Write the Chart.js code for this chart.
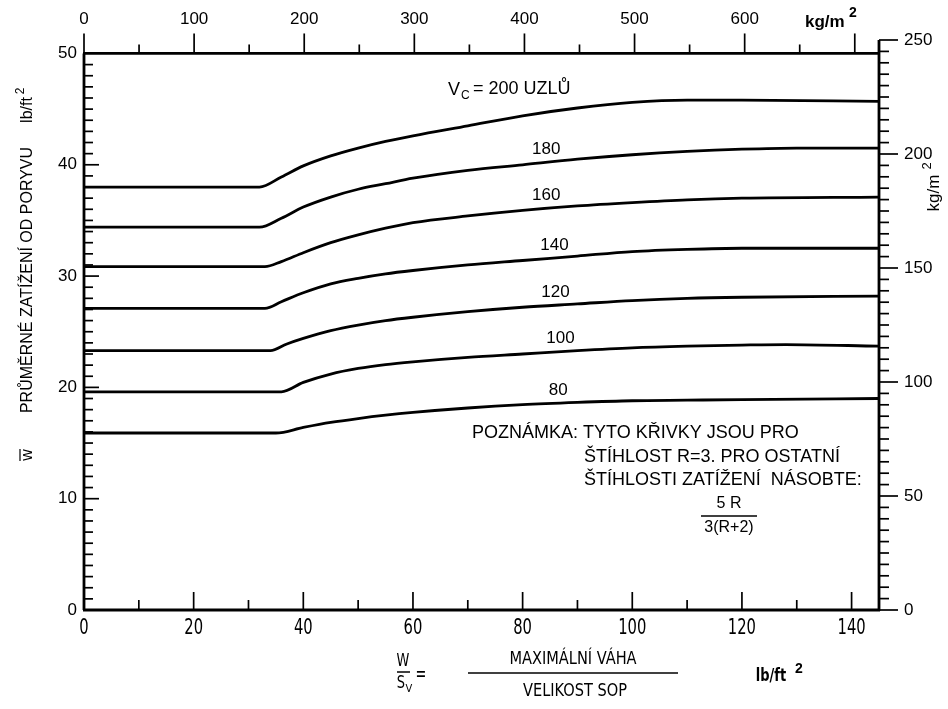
<!DOCTYPE html>
<html lang="cs">
<head>
<meta charset="UTF-8">
<title>Průměrné zatížení od poryvu</title>
<style>
  html, body { margin: 0; padding: 0; background: #fff; }
  #wrap { width: 948px; height: 709px; }
</style>
</head>
<body>
<div id="wrap"><canvas id="gustChart" width="948" height="709"></canvas></div>

<script src="https://cdn.jsdelivr.net/npm/chart.js"></script>
<script>
// curve data: W/S (lb/ft2) -> average gust load (lb/ft2), one pair per speed
var speeds = [200, 180, 160, 140, 120, 100, 80];

var load200X = [0, 32, 36, 40, 45, 50, 55, 60, 70, 80, 90, 100, 110, 120, 145];
var load200Y = [38.0, 38.0, 38.9, 39.9, 40.8, 41.5, 42.1, 42.6, 43.5, 44.4, 45.1, 45.6, 45.8, 45.8, 45.7];

var load180X = [0, 32, 36, 40, 45, 50, 55, 60, 70, 80, 90, 100, 110, 120, 130, 145];
var load180Y = [34.4, 34.4, 35.2, 36.2, 37.1, 37.8, 38.3, 38.8, 39.5, 40.0, 40.5, 40.9, 41.2, 41.4, 41.5, 41.5];

var load160X = [0, 33, 36, 40, 45, 50, 55, 60, 70, 80, 90, 100, 110, 120, 145];
var load160Y = [30.85, 30.85, 31.3, 32.1, 33.0, 33.7, 34.3, 34.8, 35.4, 35.9, 36.3, 36.6, 36.85, 37.0, 37.1];

var load140X = [0, 33, 36, 40, 45, 50, 55, 60, 70, 80, 90, 100, 110, 120, 145];
var load140Y = [27.1, 27.1, 27.7, 28.5, 29.3, 29.8, 30.2, 30.5, 31.0, 31.4, 31.8, 32.2, 32.4, 32.5, 32.5];

var load120X = [0, 34, 37, 40, 45, 50, 55, 60, 70, 80, 90, 100, 110, 120, 145];
var load120Y = [23.3, 23.3, 23.9, 24.4, 25.1, 25.6, 26.0, 26.3, 26.8, 27.2, 27.5, 27.8, 28.0, 28.1, 28.2];

var load100X = [0, 36, 40, 45, 50, 55, 60, 70, 80, 90, 100, 110, 120, 128, 145];
var load100Y = [19.6, 19.6, 20.45, 21.2, 21.7, 22.05, 22.3, 22.7, 23.0, 23.3, 23.55, 23.7, 23.8, 23.85, 23.7];

var load80X = [0, 35, 40, 45, 50, 55, 60, 70, 80, 90, 100, 110, 120, 145];
var load80Y = [15.9, 15.9, 16.4, 16.85, 17.2, 17.5, 17.75, 18.15, 18.45, 18.65, 18.8, 18.85, 18.9, 19.0];

// where along W/S each speed label sits
var labelAtX = [0, 84.3, 84.3, 85.8, 86, 86.9, 86.5];

// axis tick labels
var bottomTicks = [0, 20, 40, 60, 80, 100, 120, 140];
var topTicks = [0, 100, 200, 300, 400, 500, 600];
var leftTicks = [0, 10, 20, 30, 40, 50];
var rightTicks = [0, 50, 100, 150, 200, 250];

var curvesX = [load200X, load180X, load160X, load140X, load120X, load100X, load80X];
var curvesY = [load200Y, load180Y, load160Y, load140Y, load120Y, load100Y, load80Y];

function toPoints(xs, ys) {
    var pts = [];
    for (var i = 0; i < xs.length; i++) {
        pts.push({ x: xs[i], y: ys[i] });
    }
    return pts;
}

// linear lookup, only used to place the speed labels above their curve
function valueAt(xs, ys, x) {
    for (var i = 1; i < xs.length; i++) {
        if (x <= xs[i]) {
            var t = (x - xs[i - 1]) / (xs[i] - xs[i - 1]);
            return ys[i - 1] + t * (ys[i] - ys[i - 1]);
        }
    }
    return ys[ys.length - 1];
}

var datasets = [];
for (var i = 0; i < speeds.length; i++) {
    datasets.push({
        label: 'Vc ' + speeds[i],
        data: toPoints(curvesX[i], curvesY[i]),
        borderColor: '#000',
        borderWidth: 2.8,
        pointRadius: 0,
        fill: false,
        cubicInterpolationMode: 'monotone',
        xAxisID: 'x',
        yAxisID: 'y'
    });
}

var SANS = '"Liberation Sans", Arial, sans-serif';
var NARROW = '"Liberation Sans Narrow", "DejaVu Sans Condensed", "Liberation Sans", sans-serif';

function line(ctx, x1, y1, x2, y2) {
    ctx.beginPath();
    ctx.moveTo(x1, y1);
    ctx.lineTo(x2, y2);
    ctx.stroke();
}

function text(ctx, str, x, y, font, align) {
    ctx.font = font;
    ctx.textAlign = align || 'center';
    ctx.textBaseline = 'middle';
    ctx.fillText(str, x, y);
}

// same as text() but squeezed horizontally, for the narrow scanned lettering
function narrowText(ctx, str, x, y, font, squeeze) {
    ctx.save();
    ctx.translate(x, y);
    ctx.scale(squeeze, 1);
    text(ctx, str, 0, 0, font);
    ctx.restore();
}

// draws the scanned-style axes, ticks and notes from the chart's own scales
var paperAxes = {
    id: 'paperAxes',
    afterDraw: function (chart) {
        var ctx = chart.ctx;
        var xs = chart.scales.x, ys = chart.scales.y;
        var xk = chart.scales.xKg, yk = chart.scales.yKg;
        var left = xs.getPixelForValue(0), right = xs.getPixelForValue(xs.max);
        var bottom = ys.getPixelForValue(0), top = ys.getPixelForValue(50);
        var v, px, py;

        ctx.save();
        ctx.fillStyle = '#000';
        ctx.strokeStyle = '#000';
        ctx.lineCap = 'butt';

        // frame lines
        ctx.lineWidth = 2.8;
        line(ctx, left - 1, bottom, right + 1, bottom);
        line(ctx, left - 1, top, right, top);
        line(ctx, left, bottom, left, top);
        line(ctx, right, bottom + 1, right, yk.getPixelForValue(250));

        ctx.lineWidth = 1.7;
        // bottom: ticks point up
        for (v = 10; v <= 140; v += 10) {
            px = xs.getPixelForValue(v);
            line(ctx, px, bottom, px, bottom - (v % 20 === 0 ? 18 : 10));
        }
        // top (kg/m2): ticks point up, outside
        for (v = 0; v <= 700; v += 50) {
            px = xk.getPixelForValue(v);
            line(ctx, px, top, px, top - (v % 100 === 0 ? 20 : 9));
        }
        // left: inward ticks every 1 lb/ft2
        for (v = 1; v <= 49; v++) {
            py = ys.getPixelForValue(v);
            line(ctx, left, py, left + (v % 10 === 0 ? 15 : 9), py);
        }
        // right (kg/m2): outward ticks every 5
        for (v = 0; v <= 250; v += 5) {
            py = yk.getPixelForValue(v);
            line(ctx, right, py, right + (v % 50 === 0 ? 19 : 10), py);
        }

        // tick labels
        bottomTicks.forEach(function (t) {
            narrowText(ctx, String(t), xs.getPixelForValue(t), bottom + 19, '21px ' + NARROW, 0.78);
        });
        topTicks.forEach(function (t) {
            text(ctx, String(t), xk.getPixelForValue(t), top - 34, '17px ' + SANS);
        });
        leftTicks.forEach(function (t) {
            text(ctx, String(t), left - 7, ys.getPixelForValue(t), '17px ' + SANS, 'right');
        });
        rightTicks.forEach(function (t) {
            text(ctx, String(t), right + 25, yk.getPixelForValue(t), '17px ' + SANS, 'left');
        });

        // top unit
        text(ctx, 'kg/m', 805, 22, 'bold 17px ' + SANS, 'left');
        text(ctx, '2', 849, 13, 'bold 14px ' + SANS, 'left');

        // right unit, rotated
        ctx.save();
        ctx.translate(934, 188);
        ctx.rotate(-Math.PI / 2);
        text(ctx, 'kg/m', -5, 0, '17px ' + SANS);
        text(ctx, '2', 22, -7, '13px ' + SANS);
        ctx.restore();

        // left title, rotated
        ctx.save();
        ctx.translate(28, 0);
        ctx.rotate(-Math.PI / 2);
        text(ctx, 'PRŮMĚRNÉ ZATÍŽENÍ OD PORYVU', -280, 0, '16px ' + SANS);
        text(ctx, 'lb/ft', -110, 0, '16px ' + SANS);
        text(ctx, '2', -91, -7, '12px ' + SANS);
        text(ctx, 'w', -455, 0, '16px ' + SANS);
        ctx.lineWidth = 1.2;
        line(ctx, -461, -8, -449, -8);
        ctx.restore();

        // speed labels on the curves
        for (var i = 1; i < speeds.length; i++) {
            var lx = labelAtX[i];
            py = ys.getPixelForValue(valueAt(curvesX[i], curvesY[i], lx));
            text(ctx, String(speeds[i]), xs.getPixelForValue(lx), py - 13, '17px ' + SANS);
        }
        // top curve label with subscript
        text(ctx, 'V', 448, 90, '18px ' + SANS, 'left');
        text(ctx, 'C', 461, 96, '12px ' + SANS, 'left');
        text(ctx, '= 200 UZLŮ', 473, 89, '18px ' + SANS, 'left');

        // note
        text(ctx, 'POZNÁMKA: TYTO KŘIVKY JSOU PRO', 472, 433, '18px ' + SANS, 'left');
        text(ctx, 'ŠTÍHLOST R=3. PRO OSTATNÍ', 584, 457, '18px ' + SANS, 'left');
        text(ctx, 'ŠTÍHLOSTI ZATÍŽENÍ  NÁSOBTE:', 584, 480, '18px ' + SANS, 'left');
        text(ctx, '5 R', 729, 504, '16px ' + SANS);
        ctx.lineWidth = 1.5;
        line(ctx, 701, 516, 757, 516);
        text(ctx, '3(R+2)', 729, 528, '16px ' + SANS);

        // x axis formula
        narrowText(ctx, 'W', 403, 662, '17px ' + NARROW, 0.85);
        line(ctx, 397, 672, 410, 672);
        narrowText(ctx, 'S', 401, 684, '17px ' + NARROW, 0.85);
        text(ctx, 'V', 409, 689, '11px ' + NARROW);
        text(ctx, '=', 421, 676, 'bold 16px ' + SANS);
        narrowText(ctx, 'MAXIMÁLNÍ VÁHA', 573, 659, '18px ' + NARROW, 0.9);
        ctx.lineWidth = 1.7;
        line(ctx, 468, 673, 678, 673);
        narrowText(ctx, 'VELIKOST SOP', 575, 691, '18px ' + NARROW, 0.9);
        narrowText(ctx, 'lb/ft', 771, 677, 'bold 17px ' + NARROW, 0.85);
        text(ctx, '2', 795, 669, 'bold 14px ' + SANS, 'left');

        ctx.restore();
    }
};

new Chart(document.getElementById('gustChart').getContext('2d'), {
    type: 'line',
    data: { datasets: datasets },
    options: {
        responsive: false,
        animation: false,
        events: [],
        layout: { padding: { left: 84, right: 69, top: 40, bottom: 99 } },
        plugins: { legend: { display: false }, tooltip: { enabled: false } },
        scales: {
            x: { type: 'linear', min: 0, max: 145, display: false },
            y: { type: 'linear', min: 0, max: 51.21, display: false },
            xKg: { type: 'linear', axis: 'x', position: 'top', min: 0, max: 722, display: false },
            yKg: { type: 'linear', axis: 'y', position: 'right', min: 0, max: 250, display: false }
        }
    },
    plugins: [paperAxes]
});
</script>
</body>
</html>
